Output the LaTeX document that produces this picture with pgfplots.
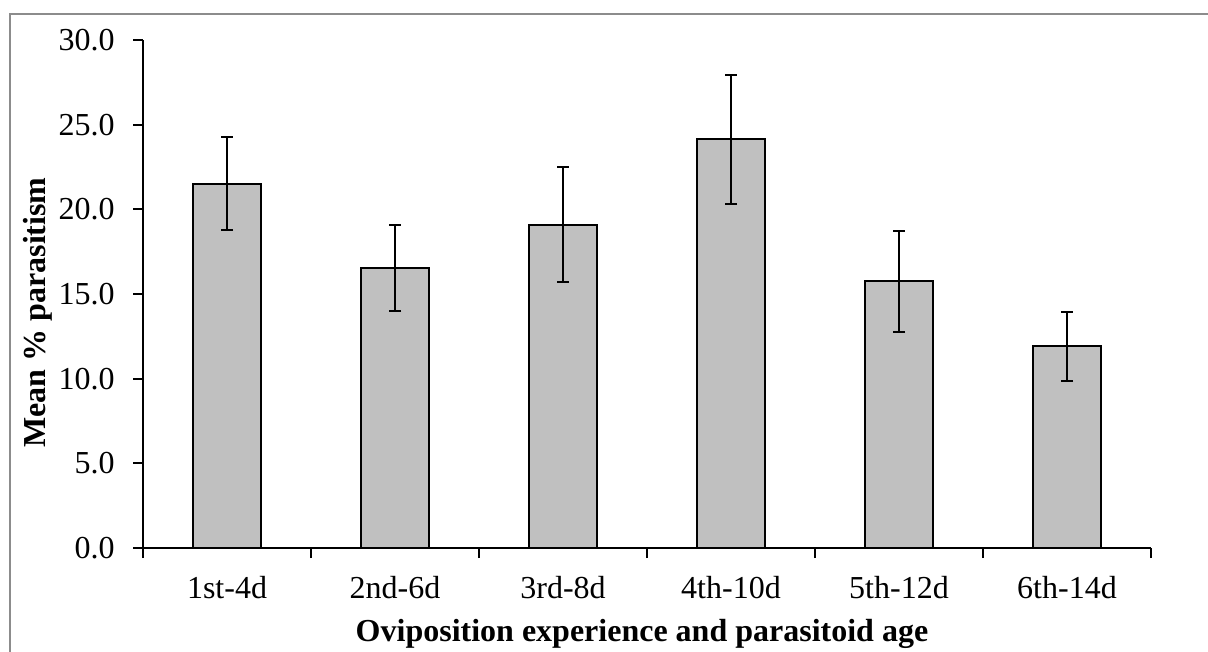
\documentclass[border=0pt]{standalone}
\usepackage{fontspec}
\setmainfont{Liberation Serif}
\usepackage{pgfplots}
\usepackage{pgfplotstable}
\pgfplotsset{compat=1.18}
\definecolor{barfill}{RGB}{192,192,192}
\definecolor{framegray}{RGB}{140,140,140}
\pgfplotstableread{
x y e
0 21.52 2.76
1 16.55 2.53
2 19.10 3.40
3 24.14 3.82
4 15.76 2.99
5 11.92 2.04
}\datatable
\begin{document}
\begin{tikzpicture}
\path[use as bounding box] (0,0) rectangle (604pt,-326pt);
\draw[framegray, line width=1pt] (5pt,-340pt) -- (5pt,-7pt) -- (620pt,-7pt);
\begin{axis}[
  at={(71.5pt,-274pt)}, anchor=south west,
  scale only axis, width=504pt, height=254pt,
  xmin=-0.5, xmax=5.5, ymin=0, ymax=30,
  axis x line=bottom, axis y line=left,
  axis line style={-, line width=1pt, black},
  ytick={0,5,...,30},
  yticklabel style={/pgf/number format/fixed, /pgf/number format/fixed zerofill, /pgf/number format/precision=1},
  /pgf/number format/assume math mode=true,
  xtick={0,1,2,3,4,5},
  xticklabels={1st-4d,2nd-6d,3rd-8d,4th-10d,5th-12d,6th-14d},
  minor xtick={-0.5,0.5,1.5,2.5,3.5,4.5,5.5},
  tick align=outside,
  major tick length=5pt, minor tick length=5pt,
  major x tick style={draw=none},
  every tick/.style={black, line width=1pt},
  tick label style={font=\fontsize{16}{19}\selectfont},
  ticklabel style={inner sep=0pt},
  yticklabel style={anchor=east, xshift=-9pt},
  xticklabel style={anchor=north, yshift=-9pt},
  label style={font=\fontsize{16}{19}\selectfont\bfseries, inner sep=0pt},
  xlabel={Oviposition experience and parasitoid age},
  xlabel style={at={(axis description cs:0.495,-0.1398)}, anchor=north},
  ylabel={Mean \% parasitism},
  ylabel style={at={(axis description cs:-0.119,0.4636)}, anchor=north, rotate=0},
  ybar, bar width=33.6pt,
  clip=false,
]
\addplot[ybar, fill=barfill, draw=black, line width=1pt,
  error bars/.cd, y dir=both, y explicit,
  error bar style={line width=1pt, black},
  error mark options={rotate=90, mark size=3pt, line width=1pt, black}]
  table[x=x, y=y, y error=e] {\datatable};
\end{axis}
\end{tikzpicture}
\end{document}
